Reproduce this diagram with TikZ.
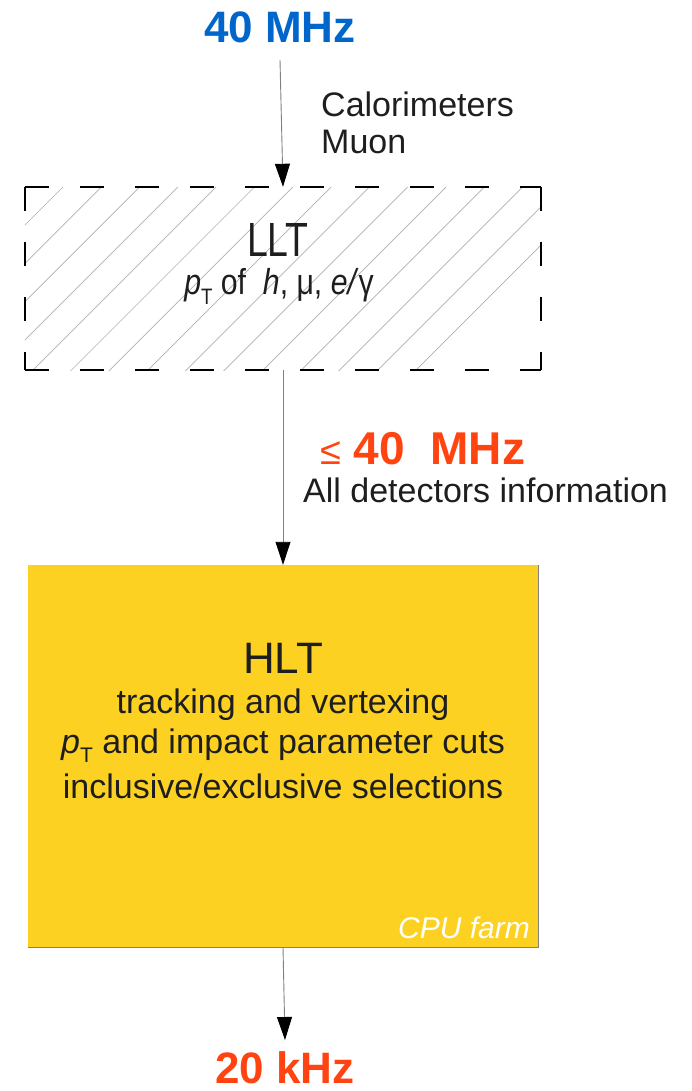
\documentclass[tikz,border=0pt]{standalone}
\usepackage{fontspec}
\setmainfont{Liberation Sans}
\usetikzlibrary{arrows.meta}
\definecolor{myblue}{RGB}{0,102,204}
\definecolor{myred}{RGB}{255,68,17}
\definecolor{myyellow}{RGB}{253,209,34}
\definecolor{txt}{RGB}{30,30,30}
\definecolor{hatchgray}{RGB}{175,175,175}
\newcommand{\myPT}{\textit{p}\raisebox{-0.28em}{\scalebox{0.62}{T}}}
\begin{document}
\begin{tikzpicture}[x=1pt,y=-1pt,
  rate/.style={font=\fontsize{44}{50}\selectfont\bfseries, inner sep=0pt},
  lbl/.style={font=\fontsize{34}{40}\selectfont, text=txt, inner sep=0pt},
  title/.style={font=\fontsize{44}{50}\selectfont, text=txt, inner sep=0pt},
  arr/.style={draw=gray, line width=0.9pt, -{Triangle[length=23pt,width=15pt,fill=black,color=black]}},
  hatch/.style={draw=hatchgray, line width=0.7pt},
  dashbox/.style={draw=black, line width=2pt, dash pattern=on 24pt off 31pt}
]
\useasboundingbox (0,0) rectangle (691,1091);

% top rate
\node[rate, text=myblue, anchor=base] (f40) at (280,43) {40 MHz};
\coordinate (a1) at (280,60);
\node[lbl, anchor=base west] (cal) at (321,117) {Calorimeters};
\node[lbl, anchor=base west] (muon) at (321,154) {Muon};

% LLT box
\node[minimum width=516pt, minimum height=183pt, inner sep=0pt] (llt) at (283,278.5) {};
\begin{scope}
  \clip (llt.north west) rectangle (llt.south east);
  \foreach \k in {-7,...,14}
    \draw[hatch] ({63+38.3*\k},187) -- ++(-260,260);
\end{scope}
\draw[dashbox] (llt.north west) -- (llt.north east);
\draw[dashbox] (llt.north west) -- (llt.south west);
\draw[dashbox] (llt.south west) -- (llt.south east);
\draw[dashbox] (llt.north east) -- (llt.south east);
\node[font=\fontsize{48}{54}\selectfont, text=txt, inner sep=0pt, anchor=base, xscale=0.78] (lltt) at (278,256) {LLT};
\node[font=\fontsize{36}{42}\selectfont, text=txt, inner sep=0pt, anchor=base, xscale=0.84] (lltsub) at (279,294) {\myPT\ of \ \textit{h}, μ, \textit{e/}γ};

% middle labels
\node[rate, font=\fontsize{46}{52}\selectfont\bfseries, text=myred, anchor=base west] (f40b) at (320,464) {{\mdseries\fontsize{38}{40}\selectfont ≤} 40\ \ MHz};
\node[lbl, anchor=base west] (alld) at (303,502) {All detectors information};

% HLT box
\node[fill=myyellow, minimum width=510pt, minimum height=382pt, inner sep=0pt] (hlt) at (283,756) {};
\draw[draw=gray, line width=1.2pt] (hlt.north east) -- (hlt.south east) -- (hlt.south west);
\node[title, anchor=base] (hltt) at (283,673) {HLT};
\node[lbl, anchor=base] (h1) at (283,713) {tracking and vertexing};
\node[lbl, anchor=base] (h2) at (283,753) {\myPT\ and impact parameter cuts};
\node[lbl, anchor=base] (h3) at (283,798) {inclusive/exclusive selections};
\node[font=\fontsize{30}{36}\selectfont\itshape, text=white, inner sep=0pt, anchor=base east] (cpu) at (530,938) {CPU farm};

% bottom
\coordinate (a3) at (285,1040);
\node[rate, text=myred, anchor=base] (f20) at (285,1083) {20 kHz};

% connectors
\draw[arr] (a1) -- (llt.north);
\draw[arr] (llt.south) -- (hlt.north);
\draw[arr] (hlt.south) -- (a3);
\end{tikzpicture}
\end{document}
